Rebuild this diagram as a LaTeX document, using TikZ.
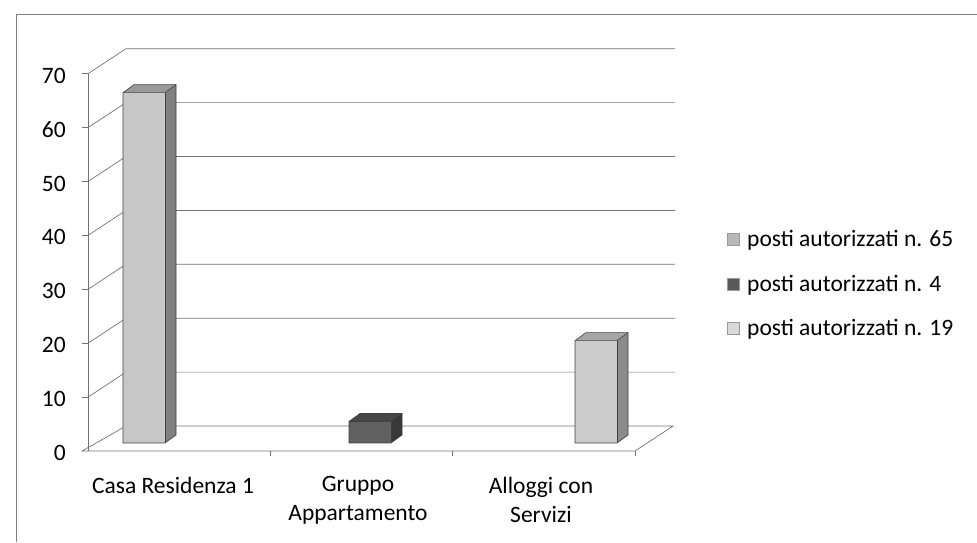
\documentclass[tikz,border=0pt]{standalone}
\usepackage{fontspec}
\setmainfont{Carlito}
\begin{document}
\begin{tikzpicture}[x=1pt,y=-1pt,
  grid/.style={draw=black!55, line width=0.7pt},
  frameline/.style={draw=black!50, line width=0.9pt},
  lbl/.style={font=\fontsize{23.5}{29}\selectfont, text=black, inner sep=0pt},
  legsq/.style={minimum size=12pt, inner sep=0pt, draw=black!40, line width=0.3pt},
]
\useasboundingbox (0,0) rectangle (977,542);
% outer frame (cropped on right and bottom)
\draw[frameline] (16,542) -- (16,14) -- (977,14);

% back wall gridlines with left wall diagonals
\foreach \v in {10,20,...,70} {
  \pgfmathsetmacro\yy{451-\v*5.39}
  \draw[grid] (88,\yy) -- ++(38,-25) -- ++(549,0);
  \draw[grid] (82,\yy) -- (88,\yy);
  \node[lbl, anchor=east] (y\v) at (66,{\yy+2}) {\v};
}
\node[lbl, anchor=east] (y0) at (66,453) {0};
% floor
\draw[grid] (82,451) -- (635,451) -- ++(38,-25) -- ++(-547,0) -- cycle;
% vertical axis
\draw[grid] (88,451) -- (88,73.7);
% category ticks
\foreach \x in {270,452,635} \draw[grid] (\x,451) -- (\x,456);

% bars: #1 left x, #2 value, colours front/side/top
\newcommand\mybar[5]{%
  \pgfmathsetmacro\tp{443-#2*5.39}
  \fill[#4] (#1+42,443) -- ++(11,-8) -- (#1+53,\tp-8) -- (#1+42,\tp) -- cycle;
  \fill[#5] (#1,\tp) -- ++(11,-8) -- ++(42,0) -- (#1+42,\tp) -- cycle;
  \fill[#3] (#1,\tp) rectangle (#1+42,443);
  \draw[black!75, line width=0.6pt] (#1,443) -- (#1,\tp) -- ++(11,-8) -- ++(42,0) -- ++(0,{#2*5.39}) -- ++(-11,8) -- cycle;
  \draw[black!75, line width=0.6pt] (#1,\tp) -- ++(42,0) -- ++(11,-8);
  \draw[black!75, line width=0.6pt] (#1+42,\tp) -- (#1+42,443);
}
\mybar{123}{65}{black!22}{black!50}{black!40}
\mybar{349}{4}{black!62}{black!78}{black!72}
\mybar{575}{19}{black!20}{black!45}{black!35}

% category labels
\node[lbl] (c1) at (173,485) {Casa Residenza 1};
\node[lbl, align=center] (c2) at (358,500) {Gruppo\\Appartamento};
\node[lbl, align=center] (c3) at (541,500) {Alloggi con\\Servizi};

% legend
\node[legsq, fill=black!28] (s1) at (733,239) {};
\node[legsq, fill=black!65] (s2) at (733,284) {};
\node[legsq, fill=black!15] (s3) at (733,328) {};
\node[lbl, anchor=west] (t1) at (747,240) {posti autorizzati n. 65};
\node[lbl, anchor=west] (t2) at (747,285) {posti autorizzati n. 4};
\node[lbl, anchor=west] (t3) at (747,329) {posti autorizzati n. 19};
\end{tikzpicture}
\end{document}
